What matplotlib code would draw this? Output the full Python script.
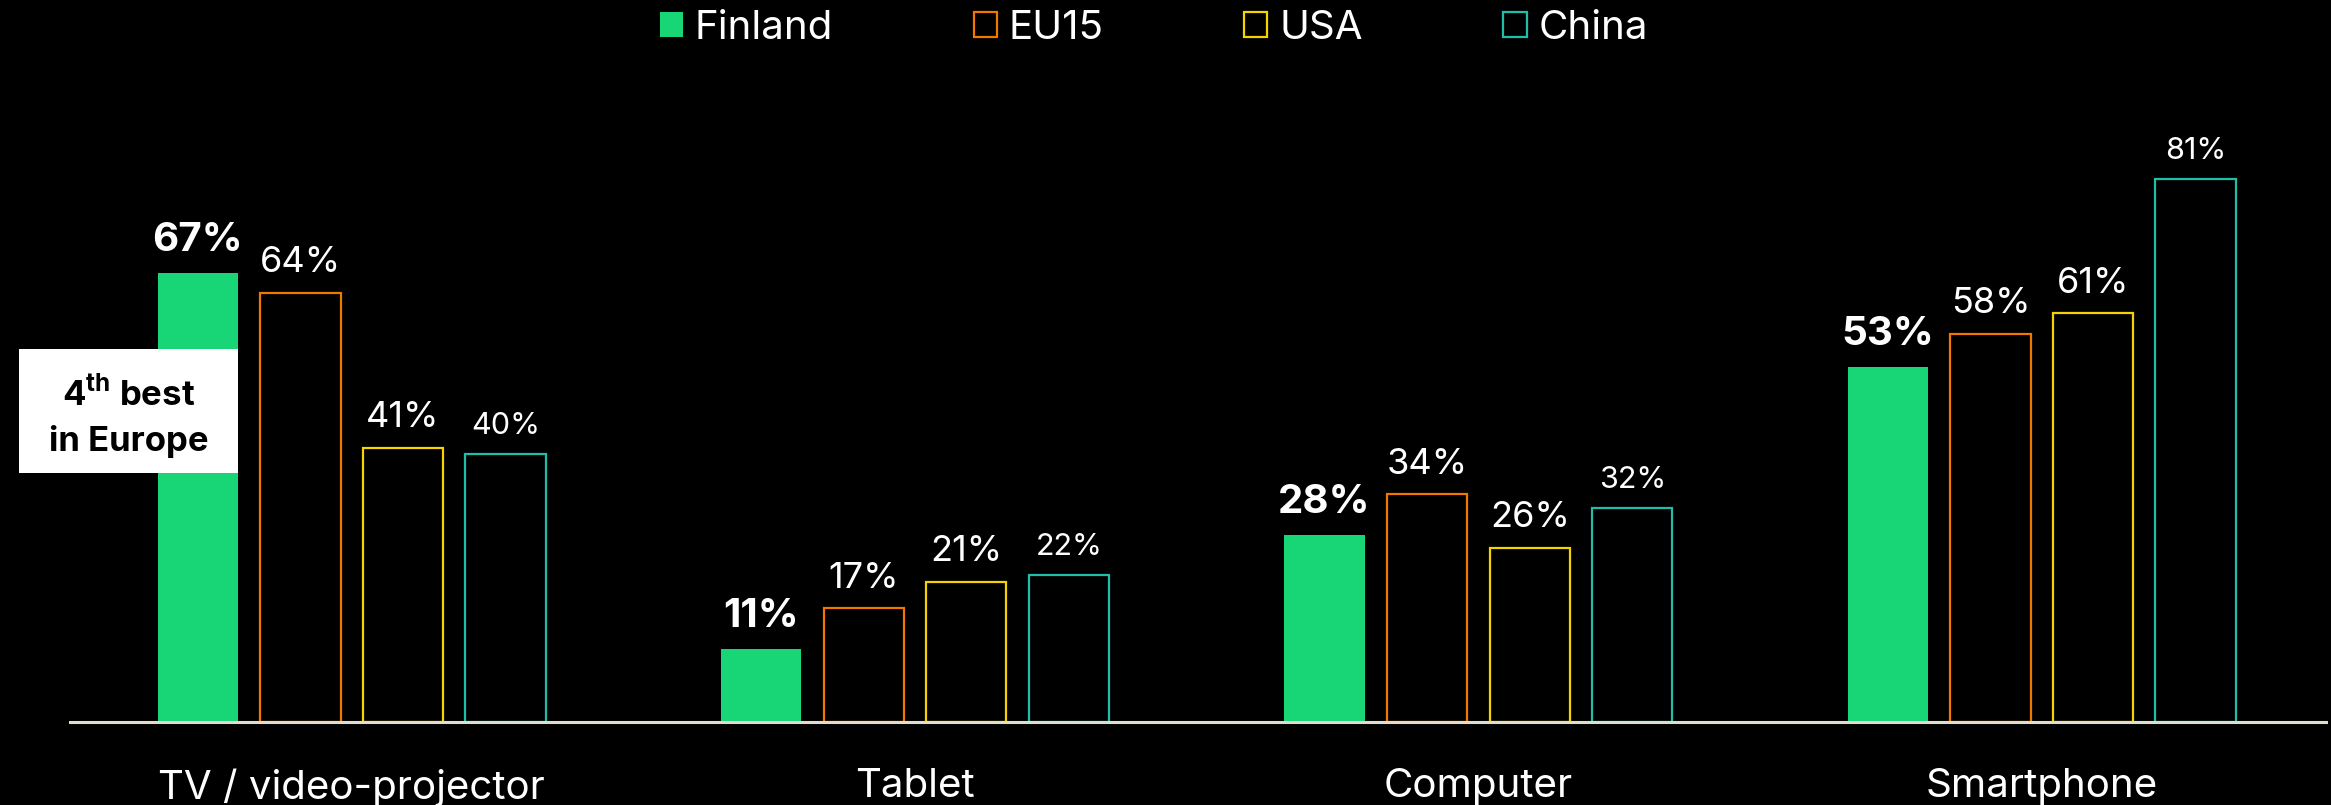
import numpy as np
import matplotlib
matplotlib.use("Agg")
import matplotlib.pyplot as plt
from matplotlib.patches import Rectangle

plt.rcParams['font.family'] = ['Inter', 'DejaVu Sans']
plt.rcParams['mathtext.fontset'] = 'custom'
plt.rcParams['mathtext.bf'] = 'Inter:bold'
plt.rcParams['mathtext.rm'] = 'Inter'

categories = ['TV / video-projector', 'Tablet', 'Computer', 'Smartphone']
series = ['Finland', 'EU15', 'USA', 'China']
finland = [67, 11, 28, 53]
eu15 = [64, 17, 34, 58]
usa = [41, 21, 26, 61]
china = [40, 22, 32, 81]
values = [finland, eu15, usa, china]

colors = ['#18D676', '#F07800', '#F5D200', '#1DBFA8']
label_sizes = [29, 26, 26, 22]   # Finland bold, China smaller

fig = plt.figure(figsize=(23.31, 8.05), dpi=100, facecolor='black')
ax = fig.add_axes([0.030, 0.1025, 0.968, 0.833])
ax.set_facecolor('black')

x = np.arange(len(categories))
step = 0.182
width = 0.1425
handles = []
for i, (name, vals, col) in enumerate(zip(series, values, colors)):
    pos = x + (i - 1.5) * step
    if i == 0:
        b = ax.bar(pos, vals, width, color=col, edgecolor=col, linewidth=0, label=name, zorder=2)
    else:
        b = ax.bar(pos, vals, width, facecolor='black', edgecolor=col, linewidth=1.6, label=name, zorder=2)
    handles.append(b)
    for xp, v in zip(pos, vals):
        ax.annotate(f'{v}%', (xp, v), xytext=(0, 10), textcoords='offset points',
                    ha='center', va='bottom', color='white', fontsize=label_sizes[i],
                    fontweight='bold' if i == 0 else 'normal')

ax.set_xlim(-0.5, 3.505)
ax.set_ylim(0, 100)
for s in ['top', 'right', 'left']:
    ax.spines[s].set_visible(False)
ax.spines['bottom'].set_color('#E0DDD0')
ax.spines['bottom'].set_linewidth(2.2)
ax.spines['bottom'].set_zorder(3)
ax.set_yticks([])
ax.set_xticks(x)
ax.set_xticklabels(categories, color='white', fontsize=29)
ax.tick_params(axis='x', length=0, pad=33)

# annotation box over Finland TV bar
fig.patches.append(Rectangle((0.0082, 0.4124), 0.094, 0.154, transform=fig.transFigure,
                             facecolor='white', edgecolor='none', zorder=5))
fig.text(0.0553, 0.482, '4$^{\\mathbf{th}}$ best\nin Europe', ha='center', va='center',
         fontsize=25, fontweight='bold', color='black', linespacing=1.45, zorder=6)

leg = fig.legend(handles=handles, labels=series, loc='center', bbox_to_anchor=(0.495, 0.965),
                 ncol=4, frameon=False, fontsize=29, handlelength=0.58, handleheight=0.58,
                 handletextpad=0.3, columnspacing=3.48, labelcolor='white')

fig.savefig('out.png', dpi=100, facecolor='black')
